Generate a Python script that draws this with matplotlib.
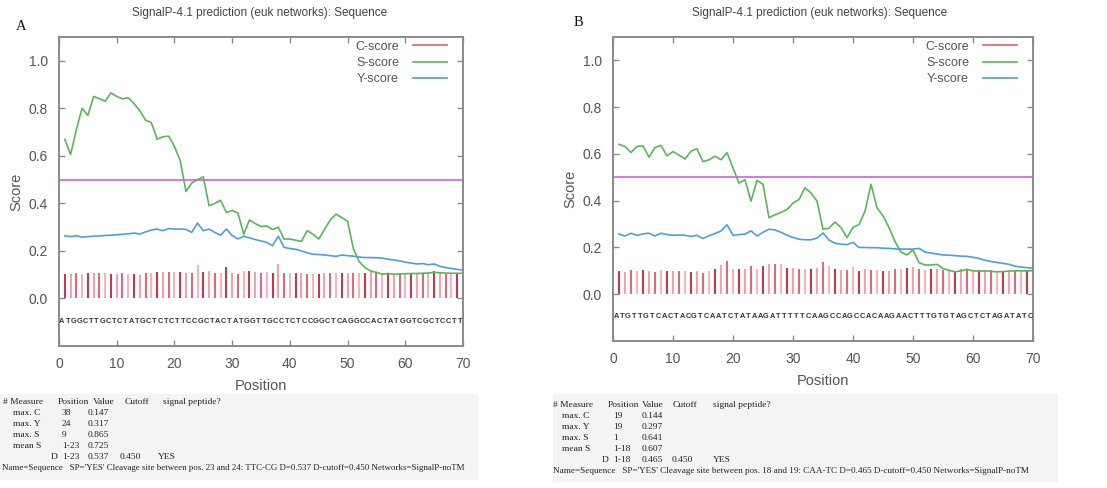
import numpy as np
import matplotlib
matplotlib.use('Agg')
import matplotlib.pyplot as plt
from matplotlib.lines import Line2D
from matplotlib.patches import Rectangle

W, H = 1107, 488

positions = np.arange(1, 71)

# panel A scores
a_c = [0.102, 0.102, 0.109, 0.102, 0.106, 0.106, 0.106, 0.106, 0.102, 0.102,
       0.106, 0.102, 0.102, 0.098, 0.106, 0.106, 0.112, 0.112, 0.112, 0.112,
       0.112, 0.106, 0.109, 0.140, 0.112, 0.116, 0.109, 0.106, 0.134, 0.109,
       0.102, 0.116, 0.116, 0.112, 0.109, 0.112, 0.106, 0.147, 0.109, 0.109,
       0.106, 0.106, 0.102, 0.102, 0.102, 0.106, 0.109, 0.106, 0.106, 0.106,
       0.106, 0.109, 0.109, 0.112, 0.109, 0.109, 0.106, 0.102, 0.102, 0.104,
       0.104, 0.105, 0.106, 0.108, 0.116, 0.106, 0.104, 0.104, 0.103, 0.102]
a_s = [0.670, 0.605, 0.710, 0.800, 0.770, 0.850, 0.840, 0.830, 0.865, 0.850,
       0.840, 0.845, 0.820, 0.790, 0.750, 0.740, 0.670, 0.680, 0.683, 0.640,
       0.580, 0.450, 0.486, 0.500, 0.512, 0.390, 0.400, 0.413, 0.362, 0.370,
       0.360, 0.270, 0.330, 0.315, 0.303, 0.305, 0.290, 0.300, 0.250, 0.250,
       0.245, 0.240, 0.285, 0.270, 0.250, 0.290, 0.330, 0.355, 0.340, 0.325,
       0.210, 0.155, 0.130, 0.115, 0.110, 0.102, 0.105, 0.102, 0.103, 0.104,
       0.105, 0.105, 0.106, 0.107, 0.110, 0.108, 0.107, 0.106, 0.106, 0.106]
a_y = [0.264, 0.260, 0.264, 0.258, 0.260, 0.262, 0.263, 0.265, 0.266, 0.268,
       0.270, 0.272, 0.275, 0.271, 0.280, 0.288, 0.292, 0.285, 0.294, 0.292,
       0.292, 0.291, 0.278, 0.317, 0.285, 0.292, 0.278, 0.266, 0.292, 0.265,
       0.250, 0.262, 0.255, 0.248, 0.242, 0.236, 0.222, 0.262, 0.215, 0.210,
       0.207, 0.200, 0.192, 0.186, 0.185, 0.183, 0.180, 0.177, 0.183, 0.180,
       0.178, 0.174, 0.172, 0.172, 0.171, 0.170, 0.165, 0.162, 0.158, 0.153,
       0.149, 0.145, 0.147, 0.142, 0.145, 0.135, 0.130, 0.126, 0.122, 0.120]
a_seq = "ATGGCTTGCTCTATGCTCTCTTCCGCTACTATGGTTGCCTCTCCGGCTCAGGCCACTATGGTCGCTCCTT"

# panel B scores
b_c = [0.100, 0.096, 0.103, 0.100, 0.103, 0.100, 0.096, 0.103, 0.100, 0.100,
       0.100, 0.100, 0.096, 0.100, 0.092, 0.100, 0.106, 0.124, 0.144, 0.110,
       0.110, 0.110, 0.120, 0.106, 0.120, 0.129, 0.131, 0.129, 0.114, 0.114,
       0.110, 0.106, 0.110, 0.114, 0.139, 0.120, 0.106, 0.103, 0.103, 0.117,
       0.100, 0.106, 0.103, 0.103, 0.100, 0.100, 0.106, 0.110, 0.114, 0.117,
       0.110, 0.103, 0.106, 0.110, 0.103, 0.106, 0.100, 0.106, 0.110, 0.100,
       0.102, 0.100, 0.103, 0.100, 0.101, 0.103, 0.100, 0.102, 0.103, 0.103]
b_s = [0.641, 0.632, 0.606, 0.632, 0.634, 0.586, 0.628, 0.636, 0.592, 0.610,
       0.595, 0.578, 0.612, 0.622, 0.567, 0.575, 0.590, 0.575, 0.606, 0.540,
       0.475, 0.490, 0.398, 0.487, 0.470, 0.327, 0.340, 0.350, 0.362, 0.390,
       0.405, 0.455, 0.433, 0.398, 0.278, 0.282, 0.309, 0.285, 0.242, 0.286,
       0.298, 0.355, 0.470, 0.370, 0.335, 0.285, 0.225, 0.180, 0.168, 0.190,
       0.135, 0.125, 0.125, 0.128, 0.110, 0.102, 0.096, 0.100, 0.106, 0.100,
       0.098, 0.100, 0.098, 0.096, 0.097, 0.099, 0.100, 0.100, 0.100, 0.100]
b_y = [0.257, 0.249, 0.261, 0.252, 0.258, 0.261, 0.249, 0.261, 0.255, 0.252,
       0.253, 0.252, 0.247, 0.252, 0.238, 0.250, 0.260, 0.270, 0.297, 0.252,
       0.255, 0.257, 0.271, 0.249, 0.265, 0.278, 0.275, 0.265, 0.252, 0.243,
       0.235, 0.233, 0.233, 0.240, 0.262, 0.232, 0.218, 0.214, 0.212, 0.222,
       0.200, 0.200, 0.199, 0.199, 0.197, 0.196, 0.194, 0.193, 0.193, 0.193,
       0.196, 0.180, 0.176, 0.172, 0.168, 0.167, 0.165, 0.163, 0.162, 0.158,
       0.153, 0.145, 0.140, 0.136, 0.132, 0.128, 0.120, 0.116, 0.114, 0.110]
b_seq = "ATGTTGTCACTACGTCAATCTATAAGATTTTTCAAGCCAGCCACAAGAACTTTGTGTAGCTCTAGATATC"

cutoff = 0.5
title = 'SignalP-4.1 prediction (euk networks): Sequence'
series_labels = ['C-score', 'S-score', 'Y-score']

table_header = ['# Measure', 'Position', 'Value', 'Cutoff', 'signal peptide?']
row_names = ['max. C', 'max. Y', 'max. S', 'mean S', 'D']
a_rows = [('38', '0.147', '', ''), ('24', '0.317', '', ''), ('9', '0.865', '', ''),
          ('1-23', '0.725', '', ''), ('1-23', '0.537', '0.450', 'YES')]
b_rows = [('19', '0.144', '', ''), ('19', '0.297', '', ''), ('1', '0.641', '', ''),
          ('1-18', '0.607', '', ''), ('1-18', '0.465', '0.450', 'YES')]
a_name = "Name=Sequence   SP='YES' Cleavage site between pos. 23 and 24: TTC-CG D=0.537 D-cutoff=0.450 Networks=SignalP-noTM"
b_name = "Name=Sequence   SP='YES' Cleavage site between pos. 18 and 19: CAA-TC D=0.465 D-cutoff=0.450 Networks=SignalP-noTM"

BAR_COLS = ['#c03a4c', '#f2a2ad', '#dc6a7a', '#f5b5bd']
C_RED = '#e06070'
C_GREEN = '#58b858'
C_BLUE = '#4aa0dc'
C_MAG = '#d060d8'
TXT = '#555555'
FRAME = '#8a8a8a'

plt.rcParams['font.family'] = ['Liberation Sans', 'DejaVu Sans']

fig = plt.figure(figsize=(W / 100, H / 100), dpi=100)


def px_rect(x0, y0, x1, y1):
    return [x0 / W, 1 - y1 / H, (x1 - x0) / W, (y1 - y0) / H]


def draw_panel(x0, y0, x1, y1, c, s, y, seq):
    ax = fig.add_axes(px_rect(x0, y0, x1, y1))
    cols = [BAR_COLS[i % len(BAR_COLS)] for i in range(len(positions))]
    ax.vlines(positions, 0, c, colors=cols, lw=1.5)
    ax.plot(positions, s, color=C_GREEN, lw=1.2)
    ax.plot(positions, y, color=C_BLUE, lw=1.2)
    ax.axhline(cutoff, color=C_MAG, lw=1.2)
    for i, ch in enumerate(seq):
        ax.text(positions[i] - 0.5, -0.095, ch, ha='center', va='center',
                fontsize=5.3, color='#333333', fontweight='bold')
    ax.set_xlim(0, 70)
    ax.set_ylim(-0.2, 1.1)
    ax.set_xticks(range(0, 71, 10))
    ax.set_yticks([0.0, 0.2, 0.4, 0.6, 0.8, 1.0])
    ax.set_yticklabels(['0.0', '0.2', '0.4', '0.6', '0.8', '1.0'])
    ax.tick_params(direction='in', top=True, right=True, length=4, width=1,
                   color=FRAME, labelcolor=TXT, labelsize=10, pad=8)
    for sp in ax.spines.values():
        sp.set_color(FRAME)
        sp.set_linewidth(1.4)
    ax.set_xlabel('Position', color=TXT, fontsize=10.5, labelpad=6)
    ax.set_ylabel('Score', color=TXT, fontsize=10.5, labelpad=4)
    handles = [Line2D([], [], color=C_RED, lw=1.2),
               Line2D([], [], color=C_GREEN, lw=1.2),
               Line2D([], [], color=C_BLUE, lw=1.2)]
    aw, ah = x1 - x0, y1 - y0
    leg = ax.legend(handles, series_labels, loc='upper right', frameon=False,
                    bbox_to_anchor=(1 - 14 / aw, 1 - 1 / ah), borderaxespad=0,
                    markerfirst=False, handlelength=2.7, fontsize=9,
                    labelspacing=0.36, handletextpad=1.1, borderpad=0.2)
    for t in leg.get_texts():
        t.set_color(TXT)
    return ax


draw_panel(59, 37, 463, 346, a_c, a_s, a_y, a_seq)
draw_panel(613, 37, 1033, 341, b_c, b_s, b_y, b_seq)

fig.text(260 / W, 1 - 13 / H, title, ha='center', va='center', fontsize=8.5, color='#444444')
fig.text(820 / W, 1 - 13 / H, title, ha='center', va='center', fontsize=8.5, color='#444444')
fig.text(21 / W, 1 - 26 / H, 'A', ha='center', va='center', fontsize=10.5,
         family='Liberation Serif', color='#111111')
fig.text(578 / W, 1 - 22 / H, 'B', ha='center', va='center', fontsize=10.5,
         family='Liberation Serif', color='#111111')

# summary tables below the plots
fig.patches.append(Rectangle((0, 1 - 480 / H), 478 / W, 86 / H, transform=fig.transFigure,
                             facecolor='#f4f4f4', edgecolor='none', zorder=0))
fig.patches.append(Rectangle((553 / W, 1 - 482 / H), 505 / W, 88 / H, transform=fig.transFigure,
                             facecolor='#f4f4f4', edgecolor='none', zorder=0))


def draw_table(x0, top, header_x, row_x, d_x, rows, name_line, name_end):
    tk = dict(fontsize=6.8, family='Liberation Serif', color='#222222', va='center')
    step = 11
    for hx, h in zip(header_x, table_header):
        fig.text((x0 + hx) / W, 1 - top / H, h, **tk)
    for k, (nm, vals) in enumerate(zip(row_names, rows)):
        yy = 1 - (top + step * (k + 1)) / H
        nx = row_x[0] if nm != 'D' else d_x
        fig.text((x0 + nx) / W, yy, nm, **tk)
        for rx, v in zip(row_x[1:], vals):
            if v:
                fig.text((x0 + rx) / W, yy, v, **tk)
    yy = 1 - (top + step * 6) / H
    t = fig.text((x0 + 2) / W, yy, name_line, **tk)
    fig.canvas.draw()
    wpx = t.get_window_extent().width
    t.set_fontsize(t.get_fontsize() * (name_end - x0 - 2) / wpx)


draw_table(0, 402, [3, 58, 93, 125, 163], [13, 62, 88, 120, 158], 51, a_rows, a_name, 463)
draw_table(551, 405, [2, 57, 91, 122, 162], [11, 62, 91, 121, 162], 51, b_rows, b_name, 1033)

fig.savefig('out.png', dpi=100)
